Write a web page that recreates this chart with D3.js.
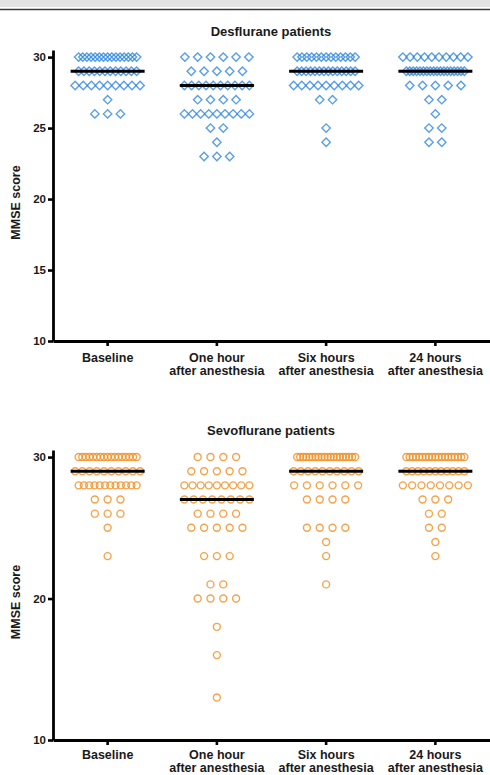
<!DOCTYPE html>
<html>
<head>
<meta charset="utf-8">
<script src="https://cdn.jsdelivr.net/npm/d3@7"></script>
<style>
  body { margin: 0; background: #fff; }
  svg { display: block; font-family: "Liberation Sans", Arial, sans-serif; }
</style>
</head>
<body>
<div id="chart"></div>
<script>
// categories on the x axis (line breaks split the label)
const categories = [
    "Baseline",
    "One hour\nafter anesthesia",
    "Six hours\nafter anesthesia",
    "24 hours\nafter anesthesia"
];

// MMSE scores per group as [score, number of patients]
const desflurane = [
    [[30, 15], [29, 12], [28, 9], [27, 1], [26, 3]],
    [[30, 6], [29, 5], [28, 10], [27, 4], [26, 9], [25, 2], [24, 1], [23, 3]],
    [[30, 13], [29, 14], [28, 9], [27, 2], [25, 1], [24, 1]],
    [[30, 10], [29, 18], [28, 5], [27, 2], [26, 1], [25, 2], [24, 2]]
];

const sevoflurane = [
    [[30, 17], [29, 10], [28, 12], [27, 3], [26, 3], [25, 1], [23, 1]],
    [[30, 4], [29, 5], [28, 9], [27, 8], [26, 4], [25, 5], [23, 3], [21, 2], [20, 4], [18, 1], [16, 1], [13, 1]],
    [[30, 20], [29, 10], [28, 6], [27, 4], [25, 4], [24, 1], [23, 1], [21, 1]],
    [[30, 19], [29, 11], [28, 8], [27, 3], [26, 2], [25, 2], [24, 1], [23, 1]]
];

const desTicks = [10, 15, 20, 25, 30];
const sevoTicks = [10, 20, 30];

const width = 490;
const height = 775;

const svg = d3.select("#chart")
    .append("svg")
    .attr("width", width)
    .attr("height", height);

// window strip at the very top
svg.append("rect")
    .attr("x", 0).attr("y", 0)
    .attr("width", width).attr("height", 7)
    .attr("fill", "#e3e3e3");
svg.append("line")
    .attr("x1", 0).attr("x2", width)
    .attr("y1", 9.5).attr("y2", 9.5)
    .attr("stroke", "#3a3a3a")
    .attr("stroke-width", 1.6);

function drawPanel(opts) {
    const g = svg.append("g");
    const left = 53;

    const x = d3.scaleBand()
        .domain(categories)
        .range([left, width]);

    const y = d3.scaleLinear()
        .domain([10, 30.5])
        .range([opts.bottom, opts.top]);

    // title
    g.append("text")
        .attr("x", 271)
        .attr("y", opts.titleY)
        .attr("text-anchor", "middle")
        .attr("font-size", 13)
        .attr("font-weight", "bold")
        .attr("fill", "#1a1a1a")
        .text(opts.title);

    // points
    opts.data.forEach((rows, gi) => {
        const cx = x(categories[gi]) + x.bandwidth() / 2;
        const pts = [];
        rows.forEach(([score, n]) => {
            // dense rows get squeezed into the column width
            const span = n > 10 ? 58 : 65;
            const step = n > 1 ? Math.min(12.8, span / (n - 1)) : 0;
            for (let i = 0; i < n; i++) {
                pts.push({ score, px: cx + (i - (n - 1) / 2) * step });
            }
        });

        const marks = g.append("g")
            .attr("fill", "none")
            .attr("stroke", opts.color)
            .attr("stroke-opacity", 0.8)
            .attr("stroke-width", 1.4);

        if (opts.shape === "diamond") {
            marks.selectAll("path")
                .data(pts)
                .enter()
                .append("path")
                .attr("d", "M0,-4.2L4.2,0L0,4.2L-4.2,0Z")
                .attr("transform", d => `translate(${d.px},${y(d.score)})`);
        } else {
            marks.selectAll("circle")
                .data(pts)
                .enter()
                .append("circle")
                .attr("cx", d => d.px)
                .attr("cy", d => y(d.score))
                .attr("r", 3.5);
        }

        // median line
        const all = [];
        rows.forEach(([score, n]) => { for (let i = 0; i < n; i++) all.push(score); });
        const med = d3.median(all);
        g.append("line")
            .attr("x1", cx - 37).attr("x2", cx + 37)
            .attr("y1", y(med)).attr("y2", y(med))
            .attr("stroke", "#000")
            .attr("stroke-width", 3);
    });

    // y axis
    const yAxis = g.append("g")
        .attr("transform", `translate(${left},0)`)
        .call(d3.axisLeft(y).tickValues(opts.ticks).tickSize(5).tickPadding(2).tickSizeOuter(0));
    yAxis.select(".domain").attr("stroke-width", 2.8);
    yAxis.selectAll(".tick line").attr("stroke-width", 2.6);
    yAxis.selectAll(".tick text")
        .attr("font-size", 11.5)
        .attr("font-weight", "bold")
        .attr("fill", "#1a1a1a")
        .attr("font-family", "Liberation Sans, Arial, sans-serif");

    // x axis
    const xAxis = g.append("g")
        .attr("transform", `translate(0,${opts.bottom})`)
        .call(d3.axisBottom(x).tickSize(5).tickSizeOuter(0).tickFormat(""));
    xAxis.select(".domain").attr("stroke-width", 2.8);
    xAxis.selectAll(".tick line").attr("stroke-width", 2.6);
    xAxis.selectAll(".tick text").remove();
    xAxis.selectAll(".tick").each(function (d) {
        const t = d3.select(this).append("text")
            .attr("text-anchor", "middle")
            .attr("font-size", 12.5)
            .attr("font-weight", "bold")
            .attr("fill", "#1a1a1a")
            .attr("font-family", "Liberation Sans, Arial, sans-serif");
        d.split("\n").forEach((line, i) => {
            t.append("tspan")
                .attr("x", 0)
                .attr("y", opts.labelY + i * opts.labelGap)
                .text(line);
        });
    });

    // y label
    g.append("text")
        .attr("transform", `translate(20,${(opts.top + opts.bottom) / 2 + 7}) rotate(-90)`)
        .attr("text-anchor", "middle")
        .attr("font-size", 12.5)
        .attr("font-weight", "bold")
        .attr("fill", "#1a1a1a")
        .text("MMSE score");
}

drawPanel({
    title: "Desflurane patients",
    titleY: 36,
    top: 50,
    bottom: 341,
    data: desflurane,
    ticks: desTicks,
    color: "#2f86e0",
    shape: "diamond",
    labelY: 20.5,
    labelGap: 13.5
});

drawPanel({
    title: "Sevoflurane patients",
    titleY: 435,
    top: 450,
    bottom: 740,
    data: sevoflurane,
    ticks: sevoTicks,
    color: "#f28c1e",
    shape: "circle",
    labelY: 19,
    labelGap: 12.5
});
</script>
</body>
</html>
